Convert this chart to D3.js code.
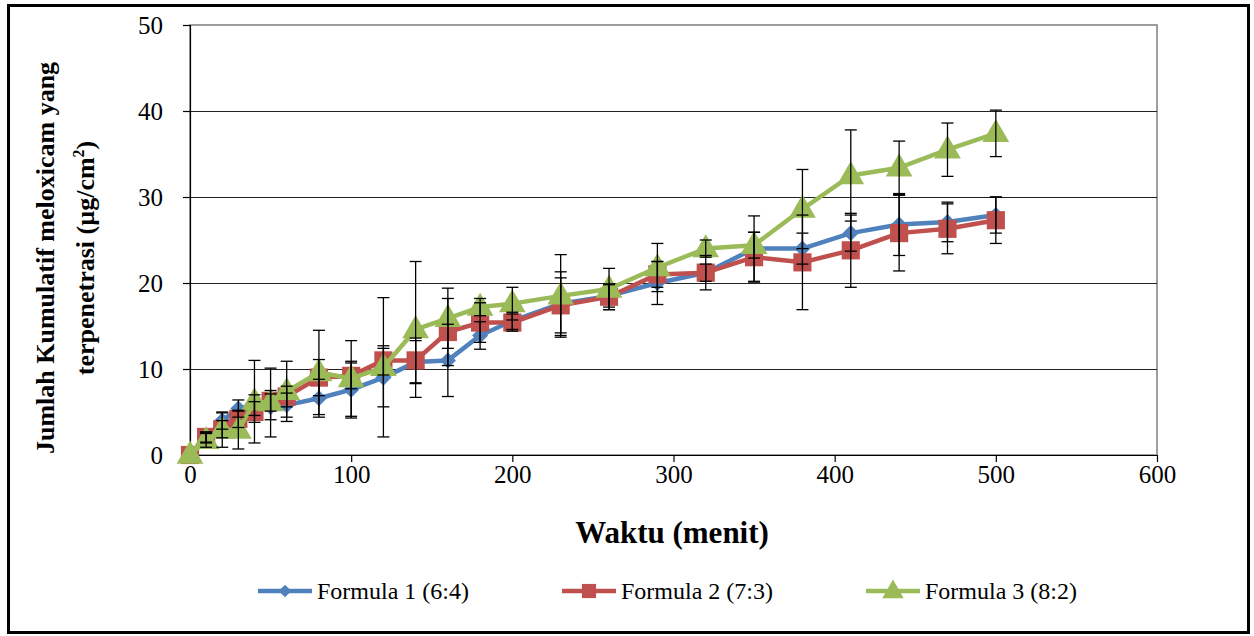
<!DOCTYPE html>
<html><head><meta charset="utf-8">
<script src="https://cdn.jsdelivr.net/npm/d3@7/dist/d3.min.js"></script>
<style>body{margin:0;background:#fff}svg{display:block}</style>
</head><body>
<svg id="c" width="1254" height="636"></svg>
<script>
const time = [0,10,20,30,40,50,60,80,100,120,140,160,180,200,230,260,290,320,350,380,410,440,470,500];
const f1 = [0,2.0,4.0,5.4,5.8,5.6,5.8,6.6,7.6,9.0,10.8,11.0,13.9,15.6,17.6,18.5,20.0,21.2,24.0,24.0,25.8,26.8,27.1,27.9];
const f1sd = [0,0.6,1.0,1.0,1.2,1.5,1.4,2.2,3.3,3.4,2.5,4.2,1.6,1.0,3.7,1.3,2.5,1.0,3.8,1.8,2.1,3.6,2.3,2.1];
const f2 = [0,2.1,3.0,4.2,5.0,6.3,6.8,9.0,9.2,11.0,11.0,14.3,15.4,15.4,17.4,18.4,21.0,21.2,23.0,22.4,23.8,25.8,26.3,27.3];
const f2sd = [0,0.6,1.0,1.0,1.2,1.2,1.2,2.1,1.5,1.7,2.6,3.9,2.3,1.0,3.2,1.5,1.5,2.0,2.9,5.5,4.3,4.4,2.9,2.7];
const f3 = [0,1.7,2.9,2.9,6.2,6.1,7.4,9.6,8.9,10.2,14.6,15.9,17.2,17.6,18.5,19.3,21.8,24.0,24.4,28.6,32.5,33.4,35.5,37.4];
const f3sd = [0,0.8,2.0,2.2,4.8,4.0,3.5,4.9,4.4,8.1,7.9,3.5,1.0,1.9,4.8,2.4,2.8,1.0,1.5,4.6,5.3,3.1,3.1,2.7];
const seriesNames = ["Formula 1 (6:4)","Formula 2 (7:3)","Formula 3 (8:2)"];
const seriesColors = ["#4F81BD","#C0504D","#9BBB59"];
const xTicks = [0,100,200,300,400,500,600];
const yTicks = [0,10,20,30,40,50];

const svg = d3.select("#c");
const L=190,R=1157,T=25,B=455;
const x = d3.scaleLinear().domain([0,600]).range([L,R]);
const y = d3.scaleLinear().domain([0,50]).range([B,T]);
const font = "'Liberation Serif','Times New Roman',serif";

svg.append("rect").attr("x",8.5).attr("y",5.5).attr("width",1240).attr("height",627)
  .attr("fill","#fff").attr("stroke","#000").attr("stroke-width",3);

svg.append("rect").attr("x",L).attr("y",T).attr("width",R-L).attr("height",B-T)
  .attr("fill","none").attr("stroke","#7f7f7f").attr("stroke-width",1.5);
svg.append("g").selectAll("line").data(yTicks.filter(d=>d>0&&d<50)).join("line")
  .attr("x1",L).attr("x2",R).attr("y1",d=>Math.round(y(d))+0.5).attr("y2",d=>Math.round(y(d))+0.5)
  .attr("stroke","#222").attr("stroke-width",1.2);

const yAxis = svg.append("g").attr("transform",`translate(${L},0)`)
  .call(d3.axisLeft(y).tickValues(yTicks).tickSize(7).tickPadding(20));
const xAxis = svg.append("g").attr("transform",`translate(0,${B})`)
  .call(d3.axisBottom(x).tickValues(xTicks).tickSize(7).tickPadding(3));
[yAxis,xAxis].forEach(a=>{
  a.selectAll("path,line").attr("stroke","#000").attr("stroke-width",1.2);
  a.selectAll("text").attr("font-family",font).attr("font-size",25).attr("fill","#000");
});
yAxis.select(".domain").attr("d",`M0.5,${T}V${B}`);
xAxis.select(".domain").attr("d",`M${L},0.5H${R}`);

const series = [[f1,f1sd],[f2,f2sd],[f3,f3sd]];
const line = d3.line().x((d,i)=>x(time[i])).y(d=>y(d));
const sym = [d3.symbolSquare, d3.symbolSquare, d3.symbolTriangle];

function marker(g, k, cx, cy, s){
  const sizes = [s?80:130, s?200:330, s?200:310];
  g.append("path").attr("d", d3.symbol().type(sym[k]).size(sizes[k])())
   .attr("transform",`translate(${cx},${cy + (k==2?1:0)})${k==0?' rotate(45)':''}`)
   .attr("fill",seriesColors[k]);
}

series.forEach(([vals],k)=>{
  const g = svg.append("g");
  g.append("path").datum(vals).attr("d",line).attr("fill","none")
    .attr("stroke",seriesColors[k]).attr("stroke-width",4.5).attr("stroke-linejoin","round");
  vals.forEach((v,i)=>marker(g,k,x(time[i]),y(v)));
});

const eb = svg.append("g").attr("stroke","#000").attr("stroke-width",1.3);
series.forEach(([vals,sd])=>{
  vals.forEach((v,i)=>{
    if(sd[i]<=0) return;
    const cx = x(time[i]), y1=y(v+sd[i]), y2=y(Math.max(0,v-sd[i]));
    eb.append("line").attr("x1",cx).attr("x2",cx).attr("y1",y1).attr("y2",y2);
    eb.append("line").attr("x1",cx-6).attr("x2",cx+6).attr("y1",y1).attr("y2",y1);
    eb.append("line").attr("x1",cx-6).attr("x2",cx+6).attr("y1",y2).attr("y2",y2);
  });
});

svg.append("text").attr("x",672).attr("y",543).attr("text-anchor","middle")
  .attr("font-family",font).attr("font-weight","bold").attr("font-size",31).text("Waktu (menit)");
const yt = svg.append("text").attr("transform","translate(0,258) rotate(-90)")
  .attr("text-anchor","middle").attr("font-family",font).attr("font-weight","bold").attr("font-size",26);
yt.append("tspan").attr("x",0).attr("y",54).text("Jumlah Kumulatif meloxicam yang");
const t2 = yt.append("tspan").attr("x",0).attr("y",94).text("terpenetrasi (µg/cm");
t2.append("tspan").attr("dy",-10).attr("font-size",16).text("2");
t2.append("tspan").attr("dy",10).text(")");

const legX = [258, 562, 866];
seriesNames.forEach((n,k)=>{
  const g = svg.append("g");
  g.append("line").attr("x1",legX[k]).attr("x2",legX[k]+54).attr("y1",591).attr("y2",591)
    .attr("stroke",seriesColors[k]).attr("stroke-width",4.5);
  marker(g,k,legX[k]+27,591,true);
  g.append("text").attr("x",legX[k]+59).attr("y",599).attr("font-family",font).attr("font-size",24)
    .attr("fill","#000").text(n);
});
</script>
</body></html>
